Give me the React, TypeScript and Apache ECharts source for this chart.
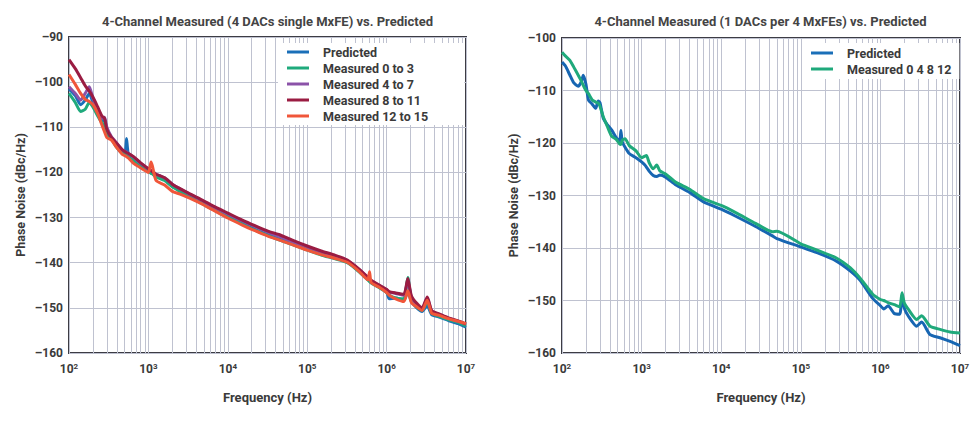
import { useEffect, useRef } from 'react'
import * as echarts from 'echarts'

// left chart: 4 DACs on a single MxFE
const L_FREQ = [
  100, 120, 140, 160, 180, 200, 230, 260, 280, 300, 340, 400, 470, 510, 530, 560, 650, 800,
  1000, 1080, 1120, 1250, 1600, 2000, 2500, 3200, 4500, 6500, 10000, 15000, 22000, 32000,
  45000, 65000, 100000, 150000, 220000, 320000, 450000, 580000, 610000, 640000, 800000,
  1000000, 1080000, 1300000, 1650000, 1850000, 2050000, 2400000, 2800000, 3250000, 3700000,
  4500000, 6000000, 8000000, 10000000
]
const L_PRED = [
  -101.5, -103, -105, -104, -102.5, -104.5, -107, -108.5, -108.5, -110.5, -112.5, -114, -115.5,
  -115.5, -112.5, -116, -117, -118.5, -119.5, -120, -120, -120.8, -121.5, -123, -124, -125,
  -126.5, -128, -129.7, -131.2, -132.6, -133.8, -134.8, -135.8, -137, -138.1, -138.9, -139.8,
  -141.8, -143.6, -144, -144.3, -145.3, -146.5, -148, -147.8, -148.3, -146.5, -148.6, -150,
  -150.8, -149.5, -151.5, -152, -152.8, -153.5, -154.3
]
const L_M0 = [
  -102.5, -104.5, -106.5, -106, -104.5, -105.5, -107.5, -109, -109.5, -111.5, -112.5, -114.5,
  -115.8, -116, -116.2, -116.5, -117.3, -118.8, -119.8, -120.2, -120.3, -121, -121.8, -123.2,
  -124.2, -125.3, -126.7, -128.2, -129.9, -131.4, -132.8, -134, -135, -136, -137.2, -138.3,
  -139.1, -140, -142, -143.8, -144.2, -144.5, -145.5, -146.6, -147.2, -147.8, -148, -143.3,
  -148.2, -149.8, -150.6, -148.5, -151.2, -151.8, -152.6, -153.2, -154
]
const L_M4 = [
  -101, -102.5, -104, -102.5, -101, -103.5, -106, -108, -107.8, -110, -112, -113.5, -115,
  -115.3, -115.5, -115.8, -116.6, -118, -119.2, -119.6, -119.8, -120.4, -121.2, -122.6, -123.6,
  -124.7, -126, -127.6, -129.2, -130.7, -132, -133.2, -134.2, -135.3, -136.5, -137.6, -138.5,
  -139.5, -141.5, -143.3, -143.7, -144, -145, -146, -146.5, -146.8, -147.2, -144, -147.6,
  -149.3, -150.2, -147.8, -150.8, -151.4, -152.3, -153, -153.6
]
const L_M8 = [
  -95, -97, -99, -100.8, -102, -103.3, -105.5, -107.5, -108, -110.5, -112.2, -113.6, -115,
  -115.4, -115.6, -115.8, -116.5, -117.9, -119.2, -119.6, -119.8, -120.4, -121.2, -122.6,
  -123.6, -124.6, -125.9, -127.4, -129, -130.5, -131.8, -133, -133.8, -135, -136.3, -137.4,
  -138.3, -139.4, -141.4, -143.2, -143.6, -143.9, -144.9, -145.9, -146.4, -146.7, -147,
  -143.5, -147.3, -149, -150, -147.6, -150.6, -151.3, -152.2, -152.9, -153.6
]
const L_M12 = [
  -98.3, -100.5, -102.5, -103.8, -104.3, -105, -107, -109.5, -111, -112.3, -112.8, -114.5,
  -116, -116.3, -116.5, -116.8, -118, -119, -120, -117.7, -118.5, -121.8, -122.8, -124.2,
  -124.8, -125.6, -126.8, -128.3, -130.1, -131.6, -132.9, -134.1, -135, -136, -137.2, -138.2,
  -139, -139.9, -141.9, -143.8, -142, -144.4, -145.4, -146.6, -147.2, -148, -148.6, -146.2,
  -148.8, -149.8, -150.6, -148.3, -151.2, -151.6, -152.4, -153, -153.5
]

// right chart: 1 DAC on each of 4 MxFEs
const R_FREQ = [
  100, 110, 125, 140, 160, 175, 185, 200, 215, 240, 265, 285, 300, 330, 370, 420, 480, 530,
  550, 570, 620, 700, 850, 1000, 1100, 1150, 1250, 1400, 1550, 1700, 2000, 2700, 4000, 6000,
  10000, 15000, 27000, 44000, 50000, 100000, 160000, 280000, 420000, 560000, 800000, 1000000,
  1100000, 1250000, 1500000, 1750000, 1870000, 2000000, 2250000, 2850000, 3300000, 4200000,
  5600000, 7500000, 10000000
]
const R_PRED = [
  -104.6, -105.3, -107, -108.5, -109.2, -108.3, -107.1, -108.8, -111.8, -112.6, -113.4, -112,
  -112.3, -115.3, -116.5, -117.5, -119, -119.6, -117.6, -119.8, -120.8, -122, -122.8, -123.6,
  -124.2, -124.6, -125.4, -126.2, -126.4, -126.1, -126.5, -128, -129.4, -131.2, -132.6,
  -133.9, -135.9, -137.7, -138.2, -139.8, -140.9, -142.5, -144.4, -146.2, -149.6, -151,
  -151.6, -151, -152.5, -152.6, -149, -151.5, -153, -154.9, -154.1, -156.5, -157.1, -157.8,
  -158.6
]
const R_MEAS = [
  -102.7, -103.4, -104.2, -105.5, -107.1, -108.2, -109, -110, -110.6, -111.8, -112.2, -112.4,
  -113, -115, -116.8, -118.7, -119.3, -120.2, -120.3, -119.5, -119.2, -120.5, -121.5, -122.8,
  -122.5, -122.4, -123.8, -124.9, -124.2, -125.3, -125.9, -127.5, -128.8, -130.6, -131.9,
  -133.2, -135.3, -136.9, -136.8, -139.2, -140.4, -141.9, -143.8, -145.8, -148.8, -149.8,
  -150, -150.4, -150.8, -151.2, -148.5, -150.5, -151.7, -153.6, -152.9, -154.9, -155.5, -156,
  -156.2
]

const MINOR_STEPS = [2, 3, 4, 5, 6, 7, 8, 9]
const DECADES = [100, 1000, 10000, 100000, 1000000]

const FONT = 'Roboto, "Noto Sans", sans-serif'
const TEXT = '#3a3a3a'
const GRID = '#bfc2d0'
const FRAME = '#3c3c44'

const minorLines = DECADES.flatMap(d => MINOR_STEPS.map(m => ({ xAxis: m * d })))

function pairs(freq: number[], vals: number[]) {
  return freq.map((f, i) => [f, vals[i]])
}

function lineSeries(name: string, color: string, data: number[][], idx: number) {
  return {
    name,
    type: 'line',
    xAxisIndex: idx,
    yAxisIndex: idx,
    data,
    showSymbol: false,
    smooth: 0.2,
    lineStyle: { width: 3, color },
    itemStyle: { color },
    z: 3
  }
}

// minor vertical grid lines at 2..9 of each decade
function gridSeries(idx: number) {
  return {
    type: 'line',
    xAxisIndex: idx,
    yAxisIndex: idx,
    data: [],
    silent: true,
    z: 1,
    markLine: {
      silent: true,
      z: 1,
      symbol: ['none', 'none'],
      label: { show: false },
      lineStyle: { color: GRID, width: 1, type: 'solid' },
      data: minorLines
    }
  }
}

function xAxis(idx: number) {
  return {
    type: 'log',
    gridIndex: idx,
    min: 100,
    max: 10000000,
    logBase: 10,
    name: 'Frequency (Hz)',
    nameLocation: 'middle',
    nameGap: 38,
    nameTextStyle: { fontFamily: FONT, fontWeight: 'bold', fontSize: 13, color: TEXT },
    axisLine: { show: false },
    axisTick: { show: false },
    splitLine: { show: true, lineStyle: { color: GRID, width: 1 } },
    axisLabel: {
      margin: 9,
      formatter: (v: number) => `{b|10}{s|${Math.round(Math.log10(v))}}`,
      rich: {
        b: { fontFamily: FONT, fontWeight: 'bold', fontSize: 12, color: TEXT },
        s: { fontFamily: FONT, fontWeight: 'bold', fontSize: 8, color: TEXT, verticalAlign: 'top', padding: [0, 0, 6, 0] }
      }
    }
  }
}

function yAxis(idx: number, max: number) {
  return {
    type: 'value',
    gridIndex: idx,
    min: -160,
    max,
    interval: 10,
    name: 'Phase Noise (dBc/Hz)',
    nameLocation: 'middle',
    nameGap: 42,
    nameTextStyle: { fontFamily: FONT, fontWeight: 'bold', fontSize: 12.5, color: TEXT },
    axisLine: { show: false },
    axisTick: { show: false },
    splitLine: { show: true, lineStyle: { color: GRID, width: 1 } },
    axisLabel: {
      margin: 6,
      fontFamily: FONT,
      fontWeight: 'bold',
      fontSize: 12,
      color: TEXT,
      formatter: (v: number) => (v < 0 ? '–' + Math.abs(v) : String(v))
    }
  }
}

function legend(names: string[], left: number, top: number, padding: number[]) {
  return {
    orient: 'vertical',
    left,
    top,
    z: 10,
    data: names,
    backgroundColor: '#fff',
    padding,
    itemGap: 0,
    itemWidth: 22,
    itemHeight: 3,
    icon: 'rect',
    textStyle: {
      fontFamily: FONT,
      fontWeight: 'bold',
      fontSize: 12.5,
      color: TEXT,
      lineHeight: 16,
      padding: [0, 0, 0, 9]
    }
  }
}

const LEFT_NAMES = ['Predicted', 'Measured 0 to 3', 'Measured 4 to 7', 'Measured 8 to 11', 'Measured 12 to 15']
const RIGHT_NAMES = ['Predicted', 'Measured 0 4 8 12']

export default function App() {
  const chartRef = useRef<HTMLDivElement>(null)

  useEffect(() => {
    if (!chartRef.current) return
    document.body.style.margin = '0'
    const chart = echarts.init(chartRef.current, null, { renderer: 'svg' })

    const titleStyle = { fontFamily: FONT, fontWeight: 'bold', fontSize: 13, fill: '#444', align: 'center', verticalAlign: 'middle' }

    const option: any = {
      animation: false,
      backgroundColor: '#fff',
      graphic: [
        { type: 'text', x: 267.5, y: 21.5, style: { ...titleStyle, text: '4-Channel Measured (4 DACs single MxFE) vs. Predicted' } },
        { type: 'text', x: 760.5, y: 21.5, style: { ...titleStyle, text: '4-Channel Measured (1 DACs per 4 MxFEs) vs. Predicted' } }
      ],
      grid: [
        { left: 69, top: 37, width: 397, height: 316, show: true, borderColor: FRAME, borderWidth: 2, backgroundColor: 'transparent' },
        { left: 562, top: 38, width: 398, height: 315, show: true, borderColor: FRAME, borderWidth: 2, backgroundColor: 'transparent' }
      ],
      xAxis: [xAxis(0), xAxis(1)],
      yAxis: [yAxis(0, -90), yAxis(1, -100)],
      legend: [
        legend(LEFT_NAMES, 278, 43, [1, 36, 1, 9]),
        legend(RIGHT_NAMES, 803, 43, [2, 8, 2, 8])
      ],
      series: [
        gridSeries(0),
        gridSeries(1),
        lineSeries('Predicted', '#1a6fb8', pairs(L_FREQ, L_PRED), 0),
        lineSeries('Measured 0 to 3', '#1faa7c', pairs(L_FREQ, L_M0), 0),
        lineSeries('Measured 4 to 7', '#8b52a8', pairs(L_FREQ, L_M4), 0),
        lineSeries('Measured 8 to 11', '#9a1c42', pairs(L_FREQ, L_M8), 0),
        lineSeries('Measured 12 to 15', '#f0563a', pairs(L_FREQ, L_M12), 0),
        lineSeries('Predicted', '#1766b2', pairs(R_FREQ, R_PRED), 1),
        lineSeries('Measured 0 4 8 12', '#1fa97b', pairs(R_FREQ, R_MEAS), 1)
      ]
    }

    chart.setOption(option, true)

    return () => {
      chart.dispose()
    }
  }, [])

  return <div ref={chartRef} style={{ width: '975px', height: '422px' }} />
}
